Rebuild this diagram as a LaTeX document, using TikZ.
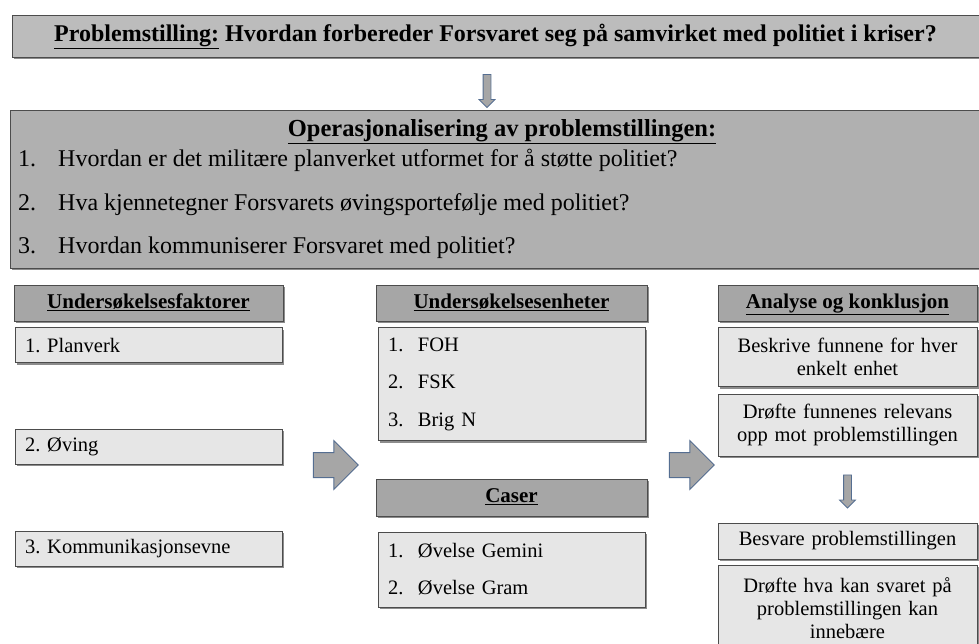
\documentclass[tikz,border=0pt]{standalone}
\usepackage{fontspec}
\setmainfont{Liberation Serif}
\usetikzlibrary{positioning,shapes.arrows,shadows,calc}

\definecolor{pilkant}{RGB}{85,110,145}
\definecolor{boksgraa}{RGB}{230,230,230}
\definecolor{hodegraa}{RGB}{166,166,166}
\definecolor{toppgraa}{RGB}{188,188,188}
\definecolor{opgraa}{RGB}{176,176,176}
\frenchspacing

\begin{document}
\begin{tikzpicture}[
    x=1pt, y=-1pt,
    every node/.style={inner sep=0pt, text=black},
    skygge/.style={draw=gray!60!black, line width=0.6pt, drop shadow={shadow xshift=2pt, shadow yshift=-2pt, fill=black, opacity=0.45}},
    tittelboks/.style={skygge, fill=toppgraa, minimum width=967pt, minimum height=42pt, font=\fontsize{24}{27}\selectfont\bfseries},
    opboks/.style={skygge, fill=opgraa, minimum width=969pt, minimum height=158pt},
    optekst/.style={font=\fontsize{24}{27}\selectfont},
    hode/.style={skygge, fill=hodegraa, minimum width=269pt, minimum height=36pt, text height=15pt, text depth=5pt, font=\fontsize{21}{24}\selectfont\bfseries},
    punkt/.style={skygge, fill=boksgraa, text width=247pt, inner xsep=10pt, minimum height=35pt, align=left, font=\fontsize{20.5}{23}\selectfont},
    liste/.style={punkt, font=\fontsize{20.5}{37.5}\selectfont},
    analyse/.style={skygge, fill=boksgraa, text width=249pt, inner xsep=5pt, align=center, font=\fontsize{20.5}{23}\selectfont},
    blokkpil/.style={single arrow, fill=gray!70, draw=pilkant, line width=1pt, minimum height=45pt, minimum width=48pt, single arrow head extend=12pt, inner sep=12pt},
    nedpil/.style={single arrow, shape border rotate=270, fill=gray!70, draw=pilkant, line width=0.8pt, minimum height=33pt, minimum width=15pt, single arrow head extend=4pt, inner sep=3.5pt}
  ]
    \useasboundingbox (0,0) rectangle (979,644);

    % problemstilling og operasjonalisering
    \node[tittelboks] (tittel) at (495.5,36) {\underline{Problemstilling:} Hvordan forbereder Forsvaret seg på samvirket med politiet i kriser?};
    \node[nedpil] (pil0) at (487,89) {};
    \node[opboks] (oper) at (494.5,189) {};
    \node[optekst] (optittel) at (502,132) {\fontsize{24.5}{27}\selectfont\bfseries\underline{Operasjonalisering av problemstillingen:}};
    \node[optekst, anchor=west] (op1) at (18,160) {\makebox[40pt][l]{1.}Hvordan er det militære planverket utformet for å støtte politiet?};
    \node[optekst, anchor=west] (op2) at (18,205) {\makebox[40pt][l]{2.}Hva kjennetegner Forsvarets øvingsportefølje med politiet?};
    \node[optekst, anchor=west] (op3) at (18,248) {\makebox[40pt][l]{3.}Hvordan kommuniserer Forsvaret med politiet?};

    % undersøkelsesfaktorer
    \node[hode] (fak0) at (148.5,303) {\underline{Undersøkelsesfaktorer}};
    \node[punkt, below=6pt of fak0] (fak1) {1. Planverk};
    \node[punkt, below=66pt of fak1] (fak2) {2. Øving};
    \node[punkt, below=66pt of fak2] (fak3) {3. Kommunikasjonsevne};

    % undersøkelsesenheter og caser
    \node[hode, minimum width=271pt] (enh0) at (511.5,303) {\underline{Undersøkelsesenheter}};
    \node[liste, minimum height=113pt, below=6pt of enh0] (enh1) {\makebox[30pt][l]{1.}FOH\\\makebox[30pt][l]{2.}FSK\\\makebox[30pt][l]{3.}Brig N};
    \node[hode, minimum width=271pt, minimum height=37pt, below=38pt of enh1] (cas0) {\underline{Caser}};
    \node[liste, minimum height=75pt, below=15pt of cas0] (cas1) {\makebox[30pt][l]{1.}Øvelse Gemini\\\makebox[30pt][l]{2.}Øvelse Gram};

    % analyse og konklusjon
    \node[hode, minimum width=259pt] (ana0) at (847.5,303) {\underline{Analyse og konklusjon}};
    \node[analyse, minimum height=59pt, below=6pt of ana0] (ana1) {Beskrive funnene for hver\\enkelt enhet};
    \node[analyse, minimum height=62pt, below=7pt of ana1] (ana2) {Drøfte funnenes relevans\\opp mot problemstillingen};
    \node[analyse, minimum height=36pt, below=66pt of ana2] (ana3) {Besvare problemstillingen};
    \node[analyse, minimum height=86pt, below=6pt of ana3] (ana4) {Drøfte hva kan svaret på\\problemstillingen kan\\innebære};

    % piler
    \node[blokkpil] (pil1) at (329.5,465) {};
    \node[blokkpil] (pil2) at (685.5,465) {};
    \node[nedpil] (pil3) at ($(ana2.south)!0.5!(ana3.north)$) {};
\end{tikzpicture}
\end{document}
